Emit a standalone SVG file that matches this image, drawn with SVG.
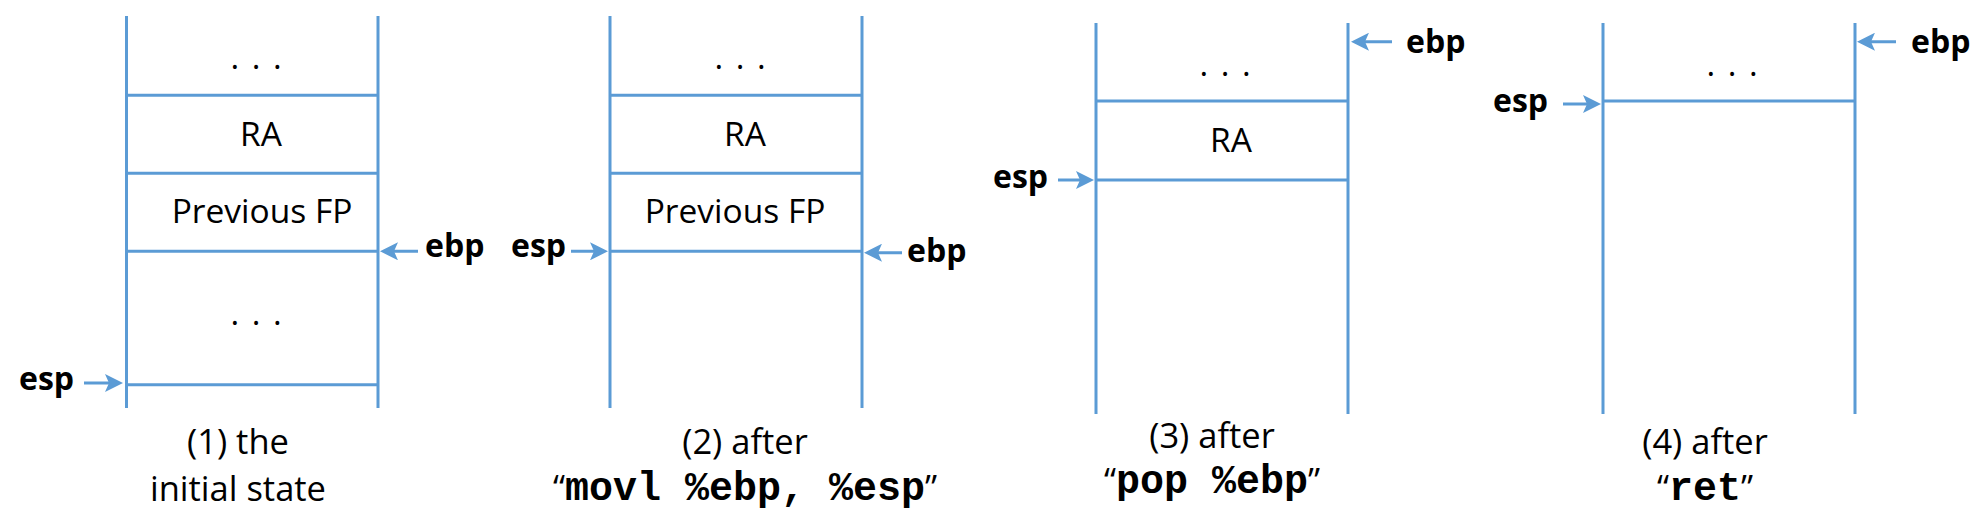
<svg xmlns="http://www.w3.org/2000/svg" width="1983" height="526" viewBox="0 0 1983 526">
<style>
.col{stroke:#5B9BD5;stroke-width:3;fill:none}
.arr{stroke:#5B9BD5;stroke-width:3;fill:none;marker-end:url(#ah)}
.t{font-family:"Open Sans","Liberation Sans",sans-serif;font-size:33.5px;fill:#000}
.dots{font-family:"Open Sans","Liberation Sans",sans-serif;font-size:33px;fill:#000;letter-spacing:2px}
.reg{font-family:"Open Sans","Liberation Sans",sans-serif;font-size:32px;font-weight:bold;fill:#000}
.cap{font-family:"Open Sans","Liberation Sans",sans-serif;font-size:34.5px;fill:#000}
.mono{font-family:"Liberation Mono","Courier New",monospace;font-weight:bold;font-size:40px}
</style>
<defs>
<marker id="ah" viewBox="0 0 18 18" refX="14" refY="9" markerWidth="18" markerHeight="18" markerUnits="userSpaceOnUse" orient="auto">
<path d="M18,9 L0,0 L4,9 L0,18 Z" fill="#5B9BD5"/>
</marker>
</defs>

<g id="panel1">
<line class="col" x1="126.5" y1="16" x2="126.5" y2="408"/>
<line class="col" x1="378" y1="16" x2="378" y2="408"/>
<line class="col" x1="126.5" y1="95.3" x2="378" y2="95.3"/>
<line class="col" x1="126.5" y1="173.3" x2="378" y2="173.3"/>
<line class="col" x1="126.5" y1="251.3" x2="378" y2="251.3"/>
<line class="col" x1="126.5" y1="384.7" x2="378" y2="384.7"/>
<text class="dots" x="257" y="69" text-anchor="middle">. . .</text>
<text class="t" x="261" y="146" text-anchor="middle">RA</text>
<text class="t" x="262" y="223" text-anchor="middle">Previous FP</text>
<text class="dots" x="257" y="325" text-anchor="middle">. . .</text>
<text class="reg" x="425" y="257">ebp</text>
<text class="reg" x="19" y="390">esp</text>
<text class="cap" x="238" y="454" text-anchor="middle">(1) the</text>
<text class="cap" x="238" y="501" text-anchor="middle">initial state</text>
</g>

<g id="panel2">
<line class="col" x1="610" y1="16" x2="610" y2="408"/>
<line class="col" x1="862" y1="16" x2="862" y2="408"/>
<line class="col" x1="610" y1="95.3" x2="862" y2="95.3"/>
<line class="col" x1="610" y1="173.3" x2="862" y2="173.3"/>
<line class="col" x1="610" y1="251.3" x2="862" y2="251.3"/>
<text class="dots" x="741" y="69" text-anchor="middle">. . .</text>
<text class="t" x="745" y="146" text-anchor="middle">RA</text>
<text class="t" x="735" y="223" text-anchor="middle">Previous FP</text>
<text class="reg" x="511" y="257">esp</text>
<text class="reg" x="907" y="262">ebp</text>
<text class="cap" x="745" y="454" text-anchor="middle">(2) after</text>
<text class="cap" x="745" y="500" text-anchor="middle">“<tspan class="mono">movl %ebp, %esp</tspan>”</text>
</g>

<g id="panel3">
<line class="col" x1="1096" y1="23" x2="1096" y2="414"/>
<line class="col" x1="1348" y1="23" x2="1348" y2="414"/>
<line class="col" x1="1096" y1="101" x2="1348" y2="101"/>
<line class="col" x1="1096" y1="180" x2="1348" y2="180"/>
<text class="dots" x="1226" y="76" text-anchor="middle">. . .</text>
<text class="t" x="1231" y="152" text-anchor="middle">RA</text>
<text class="reg" x="1406" y="53">ebp</text>
<text class="reg" x="993" y="188">esp</text>
<text class="cap" x="1212" y="448" text-anchor="middle">(3) after</text>
<text class="cap" x="1212" y="493" text-anchor="middle">“<tspan class="mono">pop %ebp</tspan>”</text>
</g>

<g id="panel4">
<line class="col" x1="1603" y1="23" x2="1603" y2="414"/>
<line class="col" x1="1855" y1="23" x2="1855" y2="414"/>
<line class="col" x1="1603" y1="101" x2="1855" y2="101"/>
<text class="dots" x="1733" y="76" text-anchor="middle">. . .</text>
<text class="reg" x="1911" y="53">ebp</text>
<text class="reg" x="1493" y="112">esp</text>
<text class="cap" x="1705" y="454" text-anchor="middle">(4) after</text>
<text class="cap" x="1705" y="500" text-anchor="middle">“<tspan class="mono">ret</tspan>”</text>
</g>

<g id="connectors">
<line class="arr" x1="418" y1="251.3" x2="384" y2="251.3"/>
<line class="arr" x1="84" y1="383" x2="119" y2="383"/>
<line class="arr" x1="571" y1="251.3" x2="604" y2="251.3"/>
<line class="arr" x1="902" y1="252.7" x2="868" y2="252.7"/>
<line class="arr" x1="1392" y1="41.7" x2="1355" y2="41.7"/>
<line class="arr" x1="1058" y1="180" x2="1090" y2="180"/>
<line class="arr" x1="1896" y1="41.7" x2="1861" y2="41.7"/>
<line class="arr" x1="1563" y1="104" x2="1597" y2="104"/>
</g>
</svg>
